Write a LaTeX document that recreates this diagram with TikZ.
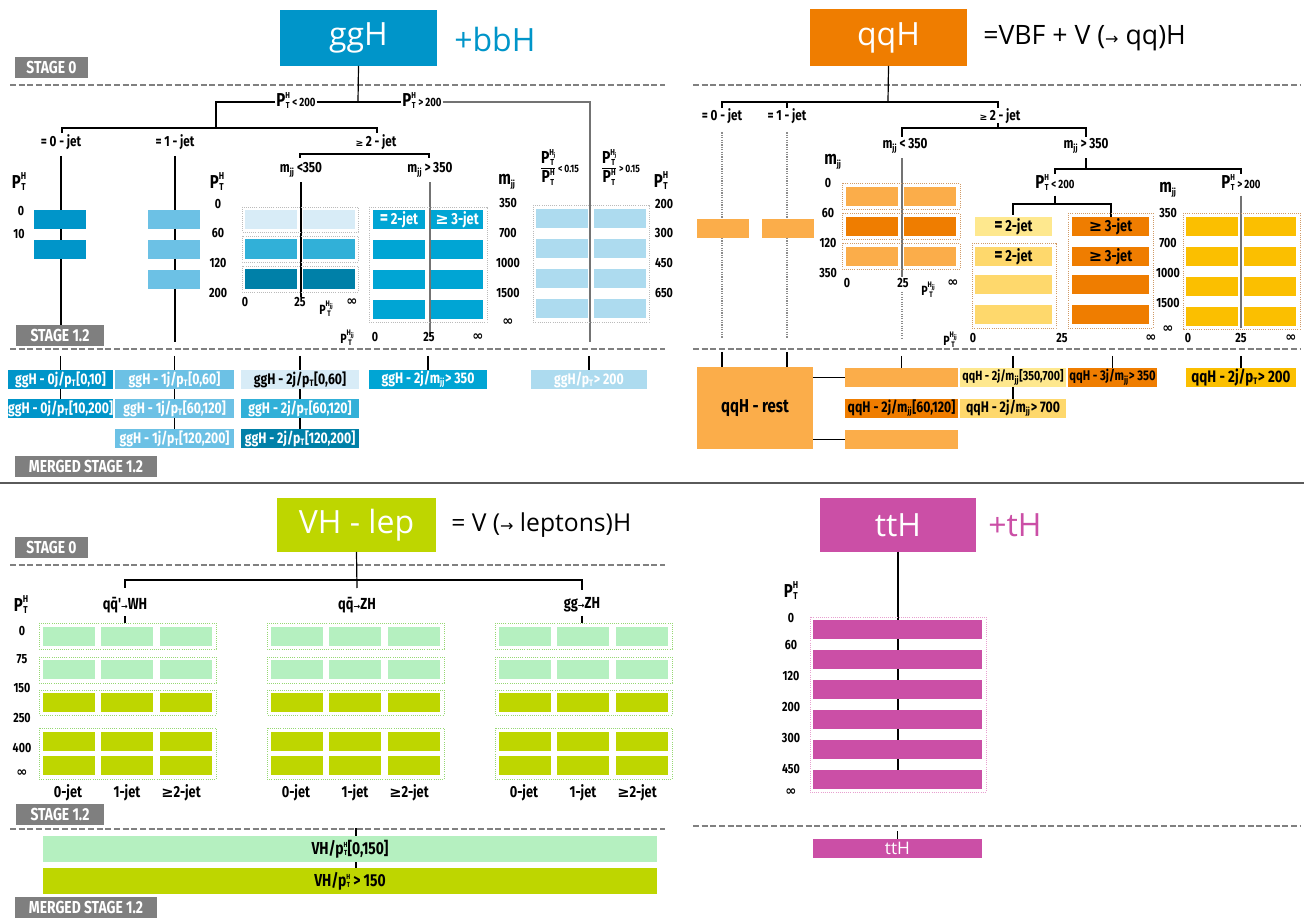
\documentclass[tikz,border=0pt]{standalone}
\usepackage{fontspec}
\setmainfont{Open Sans}
\newfontfamily\cond[FakeStretch=0.8]{Fira Sans}
\newfontfamily\dejavu{DejaVu Sans}
\newcommand\fs[1]{\fontsize{#1}{#1}\selectfont}
\newcommand\ssub[3][7.5]{{\fs{#1}\raisebox{-0.24\dimexpr#1pt\relax}{\begin{tabular}[b]{@{}c@{}}#2\\[1pt]#3\end{tabular}}}}
\newcommand\HT[1][7.5]{\ssub[#1]{H}{T}}
\newcommand\HjT{\ssub[6.5]{H\raisebox{-1pt}{\fs{4.5}j}}{T}}
\newcommand\HjjT{\ssub[6]{H\raisebox{-1pt}{\fs{4.5}jj}}{T}}
\newcommand\sT{\ensuremath{_{\mbox{\fs{7}T}}}}
\newcommand\jj{\ensuremath{_{\mbox{\fs{7}jj}}}}
\newcommand\infy{{\dejavu\bfseries ∞}}
\newcommand\geqs{{\dejavu ≥}}
\newcommand\frc[1]{\begin{tabular}{@{}c@{}}P\HjT\\[-1pt]\hline\rule{0pt}{11pt}P\HT[6.5]\end{tabular}\,{\fs{8}#1}}
\newcommand\bx[7]{\node[#6,minimum width={((#4)-(#2))*0.75pt},minimum height={((#5)-(#3))*0.75pt},inner sep=0pt,outer sep=0pt] (#1) at ({((#2)+(#4))/2},{((#3)+(#5))/2}) {#7};}
\definecolor{gA}{HTML}{0095C9}
\definecolor{gB}{HTML}{6CC1E5}
\definecolor{gC}{HTML}{D8ECF7}
\definecolor{gD}{HTML}{31B0D8}
\definecolor{gE}{HTML}{0080A8}
\definecolor{gF}{HTML}{00A5D4}
\definecolor{gG}{HTML}{ADDBEF}
\definecolor{qO}{HTML}{EF7D00}
\definecolor{qL}{HTML}{FBAD4A}
\definecolor{qYa}{HTML}{FEE88E}
\definecolor{qYb}{HTML}{FED86C}
\definecolor{qYc}{HTML}{FBBF00}
\definecolor{vL}{HTML}{B5F0C0}
\definecolor{vD}{HTML}{BED600}
\definecolor{tP}{HTML}{CB4FA6}
\definecolor{stg}{HTML}{7F7F7F}
\definecolor{sepc}{HTML}{5A5A5A}
\definecolor{gdot}{HTML}{BBBBBB}
\definecolor{qdot}{HTML}{D09A66}
\definecolor{vdot}{HTML}{96D873}
\definecolor{tdot}{HTML}{E8A0D0}
\begin{document}
\begin{tikzpicture}[x=0.75pt,y=-0.75pt,
  ln/.style={draw=black,line width=0.9pt},
  gln/.style={draw=black!55,line width=1.4pt},
  dotl/.style={draw=black!45,line width=0.8pt,dash pattern=on 0.8pt off 1pt},
  dsh/.style={draw=black!50,line width=2pt,dash pattern=on 4.5pt off 2pt},
  lbl/.style={font=\cond\bfseries\fs{11},inner sep=0.5pt},
  num/.style={font=\cond\bfseries\fs{10},inner sep=0pt},
  axl/.style={font=\cond\bfseries\fs{14},inner sep=0pt},
  mb/.style={font=\cond\bfseries\fs{11.5}},
  stage/.style={fill=stg,text=white,font=\cond\bfseries\fs{13}},
  ttl/.style={font=\fs{24}},
  obox/.style={draw=#1,line width=0.7pt,dash pattern=on 0.7pt off 0.9pt}]
\fill[white] (0,0) rectangle (1304,919);
\useasboundingbox (0,0) rectangle (1304,919);

% ---------- separators ----------
\draw[line width=2.2pt,draw=sepc] (0,483) -- (1304,483);
\draw[dsh] (10,85) -- (665,85);  \draw[dsh] (693,85) -- (1300,85);
\draw[dsh] (10,349) -- (665,349); \draw[dsh] (693,349) -- (1300,349);
\draw[dsh] (10,565) -- (665,565);
\draw[dsh] (10,829) -- (665,829); \draw[dsh] (693,826) -- (1300,826);

% ================= ggH =================
\bx{ggh}{280}{10}{437}{66}{ttl,fill=gA,text=white}{ggH}
\node[ttl,anchor=west,text=gA,inner sep=0pt] (bbh) at (454,40) {+bbH};
\bx{s0a}{15}{57}{88}{78}{stage}{STAGE 0}

\coordinate (j0) at (358,102);
\draw[ln] (ggh.south) -- (j0);
\node[lbl] (plo) at (296,102) {{\fs{14}P}\HT[6.5]\,{\fs{9}<\,200}};
\node[lbl] (phi) at (422,102) {{\fs{14}P}\HT[6.5]\,{\fs{9}>\,200}};
\draw[ln] (plo.east) -- (phi.west);
\draw[ln] (plo.west) -- (216,102) -- (216,128);
\draw[gln] (phi.east) -- (590,102) -- (590,342);
\draw[ln] (62,133) -- (62,128) -- (377,128) -- (377,133);
\node[lbl] (g0j) at (61,142) {= 0 - jet};
\node[lbl] (g1j) at (175,142) {= 1 - jet};
\node[lbl] (g2j) at (376,142) {{\dejavu\fs{7}≥}\,2 - jet};
\draw[ln] ([yshift=-4pt]g0j.south) -- (g0j.south |- 0,342);
\draw[ln] ([yshift=-4pt]g1j.south) -- (g1j.south |- 0,342);
\draw[ln] (300,158) -- (300,154) -- (429,154) -- (429,158);
\node[lbl] (gml) at (301,170) {m\jj\,<350};
\node[lbl] (gmh) at (430,170) {m\jj\,>\,350};
\draw[ln] ([yshift=-3pt]gml.south) -- (gml.south |- 0,297);
\draw[gln] ([yshift=-3pt]gmh.south) -- (gmh.south |- 0,337);

% 0-jet
\node[axl] (ga0) at (19,183) {P\HT};
\node[num] (ga0a) at (21,211) {0};
\node[num] (ga0b) at (19,234) {10};
\fill[gA] (34,210) rectangle (86,229);
\fill[gA] (34,240) rectangle (86,259);
% 1-jet
\fill[gB] (148,210) rectangle (200,229);
\fill[gB] (148,240) rectangle (200,259);
\fill[gB] (148,270) rectangle (200,289);
\node[axl] (ga1) at (217,183) {P\HT};
\foreach \v/\y [count=\i] in {0/204,60/233,120/263,200/293} \node[num] (ga1n\i) at (218,\y) {\v};
% mjj<350 grid
\foreach \ya/\yb/\c in {207/232/gC,236/262/gD,266/292/gE}{
  \draw[obox=gdot] (242,\ya) rectangle (358,\yb);
  \fill[\c] (245,\ya+3) rectangle (297,\yb-3);
  \fill[\c] (303,\ya+3) rectangle (355,\yb-3);}
\node[num] (gx1) at (245,302) {0};
\node[num] (gx2) at (300,302) {25};
\node[num] (gx3) at (326,310) {P\HjjT};
\node[num] (gx4) at (352,302) {\infy};
% mjj>350 grid
\draw[obox=gdot] (369,207) rectangle (487,322);
\foreach \ya in {210,240,270,300}{
  \fill[gF] (373,\ya) rectangle (425,\ya+19);
  \fill[gF] (431,\ya) rectangle (483,\ya+19);}
\node[lbl,text=white,font=\cond\bfseries\fs{12}] (g2jt) at (399,219.5) {{\fs{15}=}\,2-jet};
\node[lbl,text=white,font=\cond\bfseries\fs{12}] (g3jt) at (457,219.5) {\geqs\,3-jet};
\node[num] (gy1) at (347,339) {P\HjjT};
\node[num] (gy2) at (375,337) {0};
\node[num] (gy3) at (429,337) {25};
\node[num] (gy4) at (478,337) {\infy};
\node[axl] (gma) at (507,182) {m\jj};
\foreach \v/\y [count=\i] in {350/203,700/233,1000/263,1500/293,\infy/322} \node[num] (gman\i) at (508,\y) {\v};
% pT>200
\node[lbl,font=\cond\bfseries\fs{13}] (fr1) at (560,169) {\frc{<\,0.15}};
\node[lbl,font=\cond\bfseries\fs{13}] (fr2) at (621,169) {\frc{>\,0.15}};
\draw[obox=gdot] (533,205) rectangle (649,322);
\foreach \ya in {209,239,269,299}{
  \fill[gG] (536,\ya) rectangle (588,\ya+19);
  \fill[gG] (594,\ya) rectangle (646,\ya+19);}
\node[axl] (gpa) at (661,182) {P\HT};
\foreach \v/\y [count=\i] in {200/204,300/233,450/263,650/293} \node[num] (gpan\i) at (664,\y) {\v};

\bx{s12a}{16}{325}{104}{346}{stage}{STAGE 1.2}

% merged ggH
\bx{m1}{8}{370}{113}{389}{mb,fill=gA,text=white}{ggH - 0j/p\sT[0,10]}
\bx{m2}{8}{399}{113}{418}{mb,fill=gA,text=white}{ggH - 0j/p\sT[10,200]}
\bx{m3}{115}{370}{234}{389}{mb,fill=gB,text=white}{ggH - 1j/p\sT[0,60]}
\bx{m4}{115}{399}{234}{418}{mb,fill=gB,text=white}{ggH - 1j/p\sT[60,120]}
\bx{m5}{115}{429}{234}{448}{mb,fill=gB,text=white}{ggH - 1j/p\sT[120,200]}
\bx{m6}{241}{370}{359}{389}{mb,fill=gC,text=black}{ggH - 2j/p\sT[0,60]}
\bx{m7}{241}{399}{359}{418}{mb,fill=gD,text=white}{ggH - 2j/p\sT[60,120]}
\bx{m8}{241}{429}{359}{448}{mb,fill=gE,text=white}{ggH - 2j/p\sT[120,200]}
\bx{m9}{369}{370}{487}{389}{mb,fill=gF,text=white}{ggH - 2j/m\jj> 350}
\bx{m10}{531}{370}{647}{389}{mb,fill=gG,text=white}{ggH/p\sT> 200}
\foreach \n in {m1,m3,m6,m9,m10} \draw[ln] (\n.north |- 0,356) -- (\n.north);
\draw[ln] (m1.south) -- (m2.north);
\draw[ln] (m3.south) -- (m4.north); \draw[ln] (m4.south) -- (m5.north);
\draw[ln] (m6.south) -- (m7.north); \draw[ln] (m7.south) -- (m8.north);
\bx{ms1}{15}{456}{157}{477}{stage}{MERGED STAGE 1.2}

% ================= qqH =================
\bx{qqh}{810}{9}{967}{66}{ttl,fill=qO,text=white}{qqH}
\node[anchor=west,font=\fs{20},inner sep=0pt] (vbf) at (983,38) {=VBF + V ({\dejavu\fs{12}→} qq)H};
\coordinate (q0) at (888,102);
\draw[ln] (qqh.south) -- (q0);
\draw[ln] (722,108) -- (722,102) -- (998,102) -- (998,108);
\draw[ln] (787,102) -- (787,108);
\node[lbl] (q0j) at (722,116) {= 0 - jet};
\node[lbl] (q1j) at (787,116) {= 1 - jet};
\node[lbl] (q2j) at (1000,116) {{\dejavu\fs{7}≥}\,2 - jet};
\draw[ln] (998,123) -- (998,128);
\draw[ln] (902,137) -- (902,128) -- (1086,128) -- (1086,137);
\node[lbl] (qml) at (905,146) {m\jj\,<\,350};
\node[lbl] (qmh) at (1086,146) {m\jj\,>\,350};
\draw[ln] ([yshift=-3pt]qmh.south) -- (1086,169);
\draw[ln] (1055,174) -- (1055,169) -- (1241,169) -- (1241,174);
\node[lbl] (qpl) at (1055,184) {{\fs{14}P}\HT[6.5]\,{\fs{9}<\,200}};
\node[lbl] (qph) at (1241,184) {{\fs{14}P}\HT[6.5]\,{\fs{9}>\,200}};
\draw[ln] ([yshift=-1pt]qpl.south -| 1055,0) -- (1055,204);
\draw[ln] (1013,215) -- (1013,204) -- (1111,204) -- (1111,217);
\draw[gln] ([yshift=-1pt]qph.south -| 1241,0) -- (1241,328);
\draw[dotl] ([yshift=-6pt]q0j.south) -- (q0j.south |- 0,338);
\draw[dotl] ([yshift=-6pt]q1j.south) -- (q1j.south |- 0,338);
\draw[gln,line width=1.2pt] ([yshift=-3pt]qml.south -| 902,0) -- (902,277);
\draw[dotl] (902,292) -- (902,338);
% 0/1 jet boxes
\fill[qL] (697,219) rectangle (749,238);
\fill[qL] (762,219) rectangle (814,238);
% mjj<350 grid
\node[axl] (qma) at (833,162) {m\jj};
\foreach \v/\y [count=\i] in {0/183,60/213,120/243,350/273} \node[num] (qman\i) at (828,\y) {\v};
\foreach \ya/\c in {183/qL,213/qO,243/qL}{
  \draw[obox=qdot] (842,\ya) rectangle (960,\ya+26);
  \fill[\c] (846,\ya+4) rectangle (898,\ya+23);
  \fill[\c] (904,\ya+4) rectangle (956,\ya+23);}
\node[num] (qx1) at (847,283) {0};
\node[num] (qx2) at (903,283) {25};
\node[num] (qx3) at (928,291) {P\HjjT};
\node[num] (qx4) at (953,283) {\infy};
% pT<200 grid
\bx{qc1}{975}{217}{1052}{236}{lbl,fill=qYa,font=\cond\bfseries\fs{12}}{{\fs{15}=}\,2-jet}
\draw[obox=qdot] (972,243) rectangle (1056,328);
\bx{qc2}{975}{247}{1052}{266}{lbl,fill=qYb,font=\cond\bfseries\fs{12}}{{\fs{15}=}\,2-jet}
\fill[qYb] (975,275) rectangle (1052,294);
\fill[qYb] (975,305) rectangle (1052,324);
\draw[obox=qdot] (1068,213) rectangle (1153,328);
\bx{qc3}{1072}{217}{1149}{236}{lbl,fill=qO,font=\cond\bfseries\fs{12}}{{\dejavu\bfseries\fs{12}≥}\,3-jet}
\bx{qc4}{1072}{247}{1149}{266}{lbl,fill=qO,font=\cond\bfseries\fs{12}}{{\dejavu\bfseries\fs{12}≥}\,3-jet}
\fill[qO] (1072,275) rectangle (1149,294);
\fill[qO] (1072,305) rectangle (1149,324);
\node[axl] (qmb) at (1168,190) {m\jj};
\foreach \v/\y [count=\i] in {350/213,700/243,1000/273,1500/303,\infy/329} \node[num] (qmbn\i) at (1168,\y) {\v};
\node[num] (qy0) at (950,341) {P\HjjT};
\node[num] (qy1) at (973,338) {0};
\node[num] (qy2) at (1062,338) {25};
\node[num] (qy3) at (1151,338) {\infy};
% pT>200 grid
\draw[obox=qdot] (1183,213) rectangle (1300,329);
\foreach \ya in {217,247,277,307}{
  \fill[qYc] (1186,\ya) rectangle (1238,\ya+19);
  \fill[qYc] (1244,\ya) rectangle (1296,\ya+19);}
\node[num] (qz1) at (1188,338) {0};
\node[num] (qz2) at (1241,338) {25};
\node[num] (qz3) at (1291,338) {\infy};

% merged qqH
\bx{qrest}{697}{367}{813}{449}{mb,fill=qL,font=\cond\bfseries\fs{14}}{qqH - rest}
\bx{qa}{845}{368}{958}{387}{fill=qL}{}
\bx{qb}{845}{399}{958}{418}{mb,fill=qO}{qqH - 2j/m\jj[60,120]}
\bx{qcc}{845}{430}{958}{449}{fill=qL}{}
\bx{qd}{960}{368}{1066}{387}{mb,fill=qYa,font=\cond\bfseries\fs{10}}{qqH - 2j/m\jj[350,700]}
\bx{qe}{960}{399}{1066}{418}{mb,fill=qYb}{qqH - 2j/m\jj> 700}
\bx{qf}{1068}{368}{1157}{387}{mb,fill=qO,font=\cond\bfseries\fs{10.5}}{qqH - 3j/m\jj> 350}
\bx{qg}{1186}{368}{1296}{387}{mb,fill=qYc,font=\cond\bfseries\fs{12.5}}{qqH - 2j/p\sT> 200}
\draw[ln] (qrest.north -| 722,0) ++(0,-15) -- (qrest.north -| 722,0);
\draw[ln] (qrest.north -| 787,0) ++(0,-15) -- (qrest.north -| 787,0);
\foreach \n in {qa,qd,qf,qg} \draw[ln] (\n.north |- 0,356) -- (\n.north);
\draw[ln] (qd.south) -- (qe.north);
\draw[ln] (qrest.east |- qa.west) -- (qa.west);
\draw[ln] (qrest.east |- qcc.west) -- (qcc.west);

% ================= VH =================
\bx{vh}{277}{498}{436}{552}{ttl,fill=vD,text=white}{VH - lep}
\node[anchor=west,font=\fs{18.5},inner sep=0pt] (vht) at (451,525) {= V ({\dejavu\fs{12}→} leptons)H};
\bx{s0b}{15}{537}{88}{558}{stage}{STAGE 0}
\draw[ln] (vh.south) -- (357,588);
\draw[ln] (125,588) -- (125,580) -- (582,580) -- (582,590);
\node[lbl,font=\cond\bfseries\fs{12}] (vwh) at (125,605) {q\={q}'{\dejavu\fs{6}→}WH};
\node[lbl,font=\cond\bfseries\fs{12}] (vzh) at (357,605) {q\={q}{\dejavu\fs{6}→}ZH};
\node[lbl,font=\cond\bfseries\fs{12}] (vgg) at (582,605) {gg{\dejavu\fs{6}→}ZH};
\draw[ln] ([yshift=-2pt]vwh.south) -- (125,623);
\draw[ln] ([yshift=-2pt]vgg.south) -- (582,623);
\node[axl] (vpa) at (21,606) {P\HT};
\foreach \v/\y [count=\i] in {0/631,75/659,150/688,250/718,400/748,\infy/773} \node[num] (vpn\i) at (22,\y) {\v};
\foreach \o in {0,228,456}{
  \foreach \ya/\yb in {623/649,657/683,690/715,728/779} \draw[obox=vdot] (39+\o,\ya) rectangle (216+\o,\yb);
  \foreach \xa/\xb in {43/95,101/153,160/212}{
    \foreach \ya/\yb/\c in {627/646/vL,660/679/vL,693/712/vD,732/751/vD,756/775/vD}
      \fill[\c] (\xa+\o,\ya) rectangle (\xb+\o,\yb);}
  \node[lbl,font=\cond\bfseries\fs{12}] (vj0\o) at (68+\o,793) {0-jet};
  \node[lbl,font=\cond\bfseries\fs{12}] (vj1\o) at (127+\o,793) {1-jet};
  \node[lbl,font=\cond\bfseries\fs{12}] (vj2\o) at (181+\o,793) {{\dejavu\bfseries\fs{11}≥}2-jet};}
\bx{s12b}{16}{804}{104}{825}{stage}{STAGE 1.2}
\bx{vm1}{43}{836}{657}{862}{mb,fill=vL,font=\cond\bfseries\fs{13}}{VH/p\HT[5.5][0,150]}
\bx{vm2}{43}{868}{657}{894}{mb,fill=vD,font=\cond\bfseries\fs{13}}{VH/p\HT[5.5]\,> 150}
\draw[ln] (vm1.north -| 356,0) ++(0,-8) -- (vm1.north -| 356,0);
\draw[ln] (vm1.south -| 356,0) -- (vm2.north -| 356,0);
\bx{ms2}{15}{897}{157}{918}{stage}{MERGED STAGE 1.2}

% ================= ttH =================
\bx{tth}{820}{498}{976}{552}{ttl,fill=tP,text=white}{ttH}
\node[ttl,anchor=west,text=tP,inner sep=0pt] (tht) at (988,525) {+tH};
\draw[ln] (tth.south) -- (898,770);
\node[axl] (tpa) at (791,592) {P\HT};
\foreach \v/\y [count=\i] in {0/618,60/645,120/676,200/707,300/738,450/769,\infy/792} \node[num] (tpn\i) at (791,\y) {\v};
\draw[obox=tdot] (810,617) rectangle (986,792);
\foreach \ya in {620,650,680,710,740,770} \fill[tP] (813,\ya) rectangle (982,\ya+19);
\bx{tm}{813}{839}{982}{858}{fill=tP,text=white,font=\fs{13}}{ttH}
\draw[ln] (tm.north) ++(0,-8) -- (tm.north);
\end{tikzpicture}
\end{document}
